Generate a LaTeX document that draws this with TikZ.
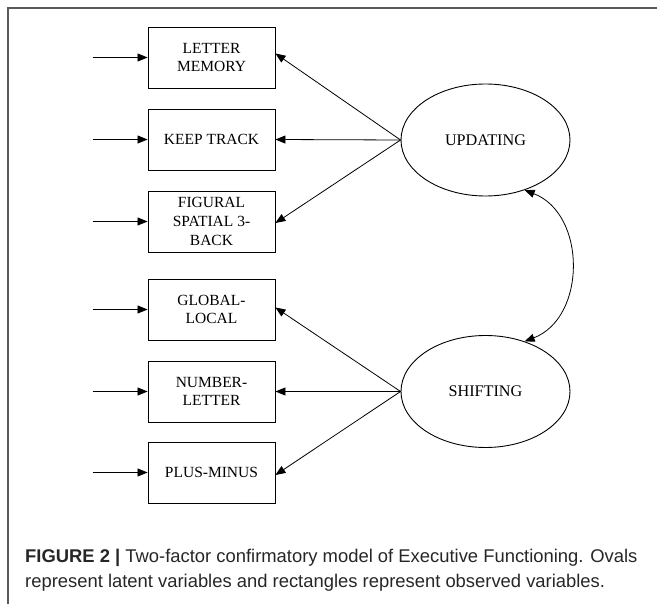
\documentclass[tikz,border=0pt]{standalone}
\usepackage{fontspec}
\setmainfont{Liberation Serif}
\newfontfamily\capfont{Liberation Sans}
\usetikzlibrary{arrows.meta,shapes.geometric}
\begin{document}
\begin{tikzpicture}[x=1pt,y=-1pt,
  tip/.style={-{Triangle[length=10pt,width=8pt]}},
  obs/.style={draw,line width=0.9pt,minimum width=127pt,minimum height=61pt,
    align=center,inner sep=1pt,font=\fontsize{15.5}{18.7}\selectfont},
  lat/.style={draw,ellipse,line width=0.9pt,minimum width=169pt,minimum height=112pt,
    inner sep=0pt,font=\fontsize{16.2}{18}\selectfont},
  link/.style={tip,line width=0.8pt},
  captext/.style={anchor=base west,inner sep=0pt,text=black!85,
    font=\capfont\fontsize{18.4}{22}\selectfont}]
\useasboundingbox (0,0) rectangle (657,604);
% frame of the figure panel
\draw[black!65,line width=1.2pt] (8,604) -- (8,8) -- (657,8);

% observed variables
\node[obs] (lm) at (211.5,57.5)  {LETTER\\MEMORY};
\node[obs] (kt) at (211.5,139.5) {KEEP TRACK};
\node[obs] (fs) at (211.5,221.5) {FIGURAL\\SPATIAL 3-\\BACK};
\node[obs] (gl) at (211.5,309.5) {GLOBAL-\\LOCAL};
\node[obs] (nl) at (211.5,391.5) {NUMBER-\\LETTER};
\node[obs] (pm) at (211.5,472.5) {PLUS-MINUS};

% latent variables
\node[lat] (up) at (485.5,140)   {UPDATING};
\node[lat] (sh) at (485.5,391.5) {SHIFTING};

% error terms
\foreach \b in {lm,kt,fs,gl,nl,pm}{
  \coordinate (e\b) at ([xshift=-55pt]\b.west);
  \draw[link] (e\b) -- (\b.west);
}

% loadings
\draw[link] (up.west) -- ([yshift=4pt]lm.east);
\draw[link] (up.west) -- (kt.east);
\draw[link] (up.west) -- ([yshift=-1.5pt]fs.east);
\draw[link] (sh.west) -- ([yshift=2pt]gl.east);
\draw[link] (sh.west) -- (nl.east);
\draw[link] (sh.west) -- ([yshift=-2.5pt]pm.east);

% factor covariance
\draw[{Triangle[length=10pt,width=8pt]}-{Triangle[length=10pt,width=8pt]},line width=0.8pt]
  (up.-52) .. controls +(62,24) and +(62,-24) .. (sh.52);

% caption
\node[captext] (c1) at (25,562) {\textbf{FIGURE 2 |} Two-factor confirmatory model of Executive Functioning. Ovals};
\node[captext] (c2) at (25,587) {represent latent variables and rectangles represent observed variables.};
\end{tikzpicture}
\end{document}
